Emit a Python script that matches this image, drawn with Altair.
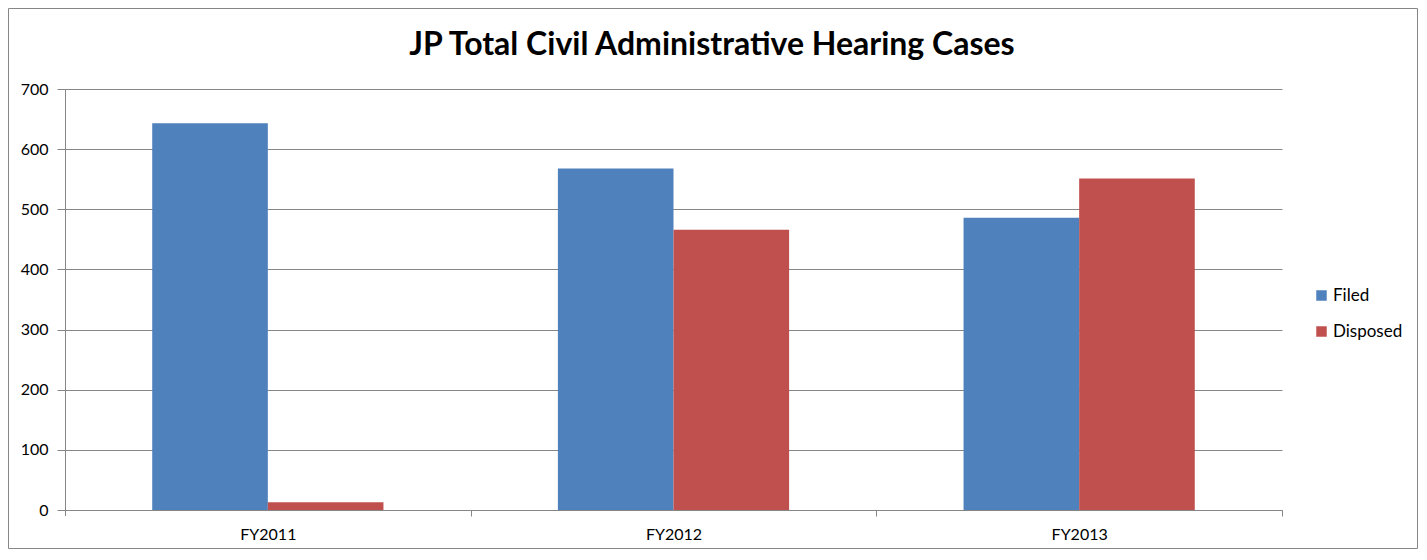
import altair as alt
import pandas as pd

years = ["FY2011", "FY2012", "FY2013"]
series = ["Filed", "Disposed"]
filed = [643, 568, 486]
disposed = [13, 466, 551]
colors = ["#4F81BD", "#C0504D"]
title_text = "JP Total Civil Administrative Hearing Cases"

rows = []
for i, y in enumerate(years):
    rows.append({"year": y, "series": "Filed", "value": filed[i]})
    rows.append({"year": y, "series": "Disposed", "value": disposed[i]})
df = pd.DataFrame(rows)

W, H = 1217, 421
PL, PT, PR, PB = 57, 81, 137, 40
FONT = "Lato"
STEP = W / 3.0

bars = alt.Chart(df).mark_bar(stroke=None).encode(
    x=alt.X("year:N", sort=years, title=None,
            scale=alt.Scale(paddingInner=0.43, paddingOuter=0.215),
            axis=alt.Axis(labelAngle=0, tickSize=6, tickOffset=STEP / 2, labelOffset=-STEP / 2,
                          labelPadding=10, labelFontSize=16, labelFont=FONT,
                          labelColor="#000000", domainColor="#868686",
                          tickColor="#868686", grid=False)),
    xOffset=alt.XOffset("series:N", sort=series, scale=alt.Scale(paddingInner=0, paddingOuter=0)),
    y=alt.Y("value:Q", title=None,
            scale=alt.Scale(domain=[0, 700], nice=False),
            axis=alt.Axis(values=[0, 100, 200, 300, 400, 500, 600, 700],
                          tickSize=8, labelPadding=9, labelFontSize=16, labelFont=FONT,
                          labelColor="#000000", domainColor="#868686",
                          tickColor="#868686", gridColor="#868686", gridWidth=1)),
    color=alt.Color("series:N", sort=series,
                    scale=alt.Scale(domain=series, range=colors),
                    legend=alt.Legend(title=None, orient="none", legendX=1248, legendY=198,
                                      symbolType="square", symbolSize=110, symbolStrokeWidth=0,
                                      labelFontSize=17, labelFont=FONT, labelColor="#000000",
                                      rowPadding=18, labelOffset=3)),
)

first_tick = alt.Chart(pd.DataFrame({"k": [0]})).mark_rule(color="#868686").encode(
    x=alt.value(0.5), y=alt.value(H), y2=alt.value(H + 6)
)

border = alt.Chart(pd.DataFrame({"k": [0]})).mark_rect(
    fill=None, stroke="#868686", strokeWidth=1
).encode(
    x=alt.value(-PL + 0.5), x2=alt.value(W + PR - 1.5),
    y=alt.value(-PT + 0.5), y2=alt.value(H + PB - 1.5),
)

title = alt.Chart(pd.DataFrame({"t": [title_text]})).mark_text(
    font=FONT, fontSize=32, fontWeight="bold", color="#000000",
    align="center", baseline="middle"
).encode(
    text="t:N", x=alt.value(712 - 65), y=alt.value(45 - 89)
)

chart = alt.layer(border, bars, first_tick, title).properties(
    width=W, height=H,
    autosize=alt.AutoSizeParams(type="none"),
    padding={"left": PL, "top": PT, "right": PR, "bottom": PB},
).configure_view(stroke=None)

chart.save("out.html", embed_options={"renderer": "svg", "actions": False})
